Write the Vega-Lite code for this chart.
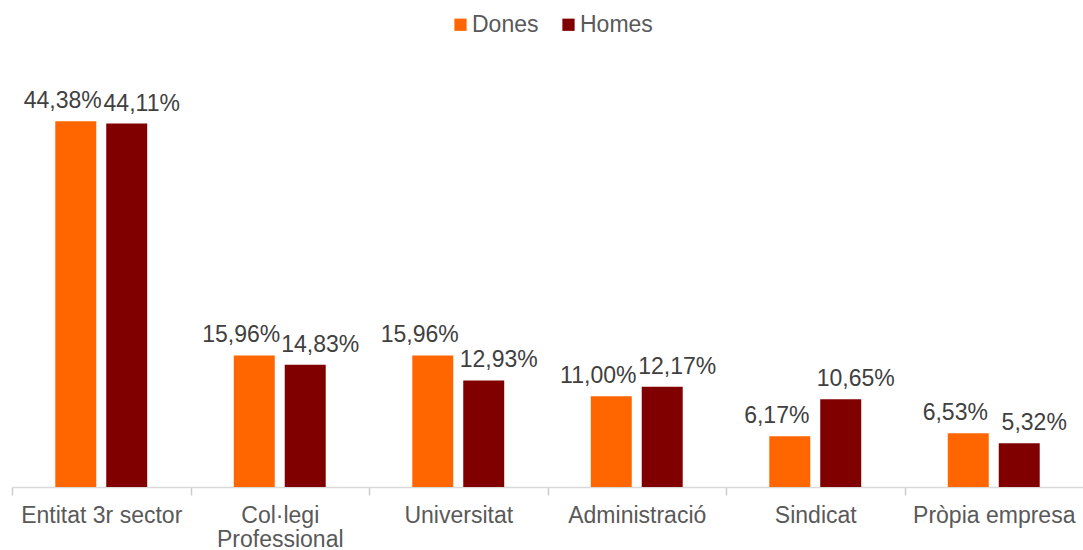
{
  "$schema": "https://vega.github.io/schema/vega-lite/v6.json",
  "width": 1071,
  "height": 412,
  "autosize": {"type": "none"},
  "padding": {"left": 12, "top": 75, "right": 0, "bottom": 63},
  "config": {
    "font": "Liberation Sans",
    "view": {"stroke": null},
    "locale": {"number": {"decimal": ",", "thousands": ".", "grouping": [3], "currency": ["", " €"]}}
  },
  "data": {
    "values": [
      {"cat": "Entitat 3r sector", "sexe": "Dones", "value": 0.4438},
      {"cat": "Entitat 3r sector", "sexe": "Homes", "value": 0.4411},
      {"cat": "Col·legi|Professional", "sexe": "Dones", "value": 0.1596},
      {"cat": "Col·legi|Professional", "sexe": "Homes", "value": 0.1483},
      {"cat": "Universitat", "sexe": "Dones", "value": 0.1596},
      {"cat": "Universitat", "sexe": "Homes", "value": 0.1293},
      {"cat": "Administració", "sexe": "Dones", "value": 0.1100},
      {"cat": "Administració", "sexe": "Homes", "value": 0.1217},
      {"cat": "Sindicat", "sexe": "Dones", "value": 0.0617},
      {"cat": "Sindicat", "sexe": "Homes", "value": 0.1065},
      {"cat": "Pròpia empresa", "sexe": "Dones", "value": 0.0653},
      {"cat": "Pròpia empresa", "sexe": "Homes", "value": 0.0532}
    ]
  },
  "encoding": {
    "x": {
      "field": "cat",
      "type": "nominal",
      "sort": ["Entitat 3r sector", "Col·legi|Professional", "Universitat", "Administració", "Sindicat", "Pròpia empresa"],
      "scale": {"paddingInner": 0.485, "paddingOuter": 0.2425},
      "axis": {
        "title": null,
        "labelAngle": 0,
        "labelFontSize": 23,
        "labelColor": "#595959",
        "labelPadding": 9,
        "labelLineHeight": 24,
        "labelLimit": 300,
        "labelExpr": "split(datum.label, '|')",
        "labelOffset": 89.25,
        "domainColor": "#d9d9d9",
        "domainWidth": 1.5,
        "ticks": true,
        "tickColor": "#cccccc",
        "tickWidth": 1.5,
        "tickSize": 8,
        "tickOffset": -89.25,
        "grid": false
      }
    },
    "xOffset": {
      "field": "sexe",
      "type": "nominal",
      "sort": ["Dones", "Homes"],
      "scale": {"paddingInner": 0.196, "paddingOuter": 0}
    },
    "y": {
      "field": "value",
      "type": "quantitative",
      "scale": {"domain": [0, 0.5]},
      "axis": null
    }
  },
  "layer": [
    {
      "mark": {"type": "bar"},
      "encoding": {
        "color": {
          "field": "sexe",
          "type": "nominal",
          "sort": ["Dones", "Homes"],
          "scale": {"domain": ["Dones", "Homes"], "range": ["#ff6600", "#800000"]},
          "legend": {
            "title": null,
            "orient": "none",
            "legendX": 437,
            "legendY": -62,
            "direction": "horizontal",
            "symbolType": "square",
            "symbolSize": 150,
            "symbolStrokeWidth": 0,
            "labelFontSize": 23,
            "labelColor": "#595959",
            "labelOffset": 0,
            "columnPadding": 18
          }
        }
      }
    },
    {
      "transform": [{"filter": "datum.sexe === 'Dones'"}],
      "mark": {"type": "text", "dx": -13, "dy": -8, "baseline": "bottom", "fontSize": 23, "color": "#404040"},
      "encoding": {"text": {"field": "value", "type": "quantitative", "format": ".2%"}}
    },
    {
      "transform": [{"filter": "datum.sexe === 'Homes'"}],
      "mark": {"type": "text", "dx": 15, "dy": -8, "baseline": "bottom", "fontSize": 23, "color": "#404040"},
      "encoding": {"text": {"field": "value", "type": "quantitative", "format": ".2%"}}
    }
  ]
}
